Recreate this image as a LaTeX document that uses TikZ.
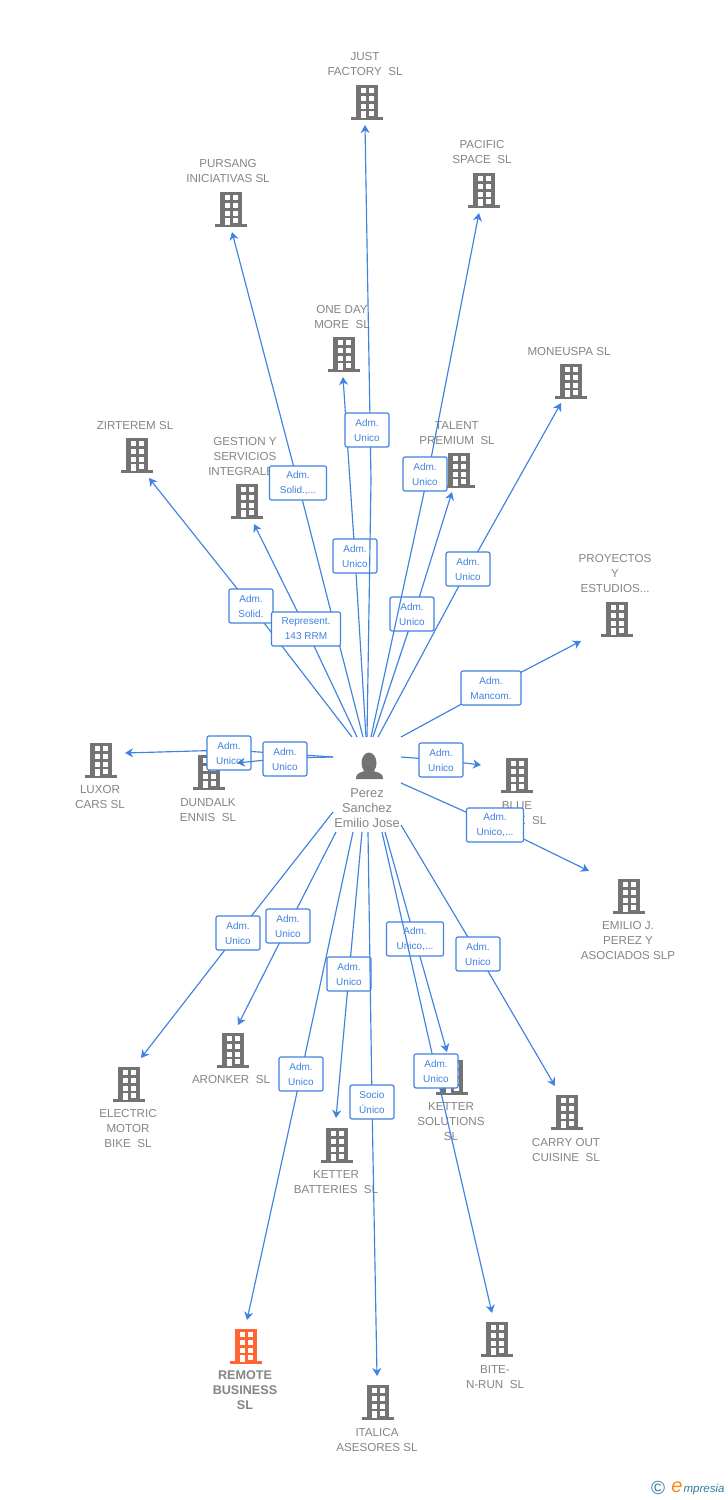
\documentclass[tikz,border=0pt]{standalone}
\usepackage{fontspec}
\setmainfont{Liberation Sans}
\usetikzlibrary{arrows.meta}
\definecolor{edgeblue}{HTML}{3F82E0}
\definecolor{iconGrey}{HTML}{737373}
\definecolor{txtGrey}{HTML}{858585}
\definecolor{hot}{HTML}{FF6633}
\definecolor{logoteal}{HTML}{2F7F9A}
\definecolor{logoorange}{HTML}{F58A1F}
\tikzset{
  x=1pt,y=-1pt,
  conn/.style={draw=edgeblue,line width=1.15pt,-{Stealth[length=8pt,width=9pt,inset=2.5pt]}},
  rel/.style={draw=edgeblue,line width=1.15pt,rounded corners=2pt,fill=white,inner sep=0pt,
    minimum height=34pt,align=center,text=edgeblue,font=\fontsize{10}{15}\selectfont},
  nm/.style={text=txtGrey,align=center,inner sep=0pt,yshift=-0.7pt,font=\fontsize{11.6}{15}\selectfont},
  nmb/.style={text=txtGrey,align=center,inner sep=0pt,yshift=-0.3pt,font=\bfseries\fontsize{12.6}{15}\selectfont},
  hubbox/.style={inner sep=0pt,minimum width=68pt,minimum height=95pt},
}
% building icon centred at #1, colour #2
\newcommand{\bld}[2]{%
  \begin{scope}[shift={#1}]
    \fill[#2] (-11,-17) rectangle (11,16);
    \fill[#2] (-16,15) rectangle (16,17.5);
    \foreach \r in {-14,-6,2}{
      \fill[white] (-6.5,\r) rectangle (-1.5,\r+5);
      \fill[white] (1.5,\r) rectangle (6.5,\r+5);}
    \fill[white] (-6.5,9) rectangle (-1.5,16);
    \fill[white] (1.5,9) rectangle (6.5,14);
  \end{scope}}
\begin{document}
\begin{tikzpicture}
\useasboundingbox (0,0) rectangle (728,1500);
\fill[white] (0,0) rectangle (728,1500);
% buildings
\bld{(367,102)}{iconGrey}
\bld{(484,190)}{iconGrey}
\bld{(231,209)}{iconGrey}
\bld{(344,354)}{iconGrey}
\bld{(571,381)}{iconGrey}
\bld{(459,470)}{iconGrey}
\bld{(137,455)}{iconGrey}
\bld{(247,501)}{iconGrey}
\bld{(617,619)}{iconGrey}
\bld{(101,760)}{iconGrey}
\bld{(209,772)}{iconGrey}
\bld{(517,775)}{iconGrey}
\bld{(629,896)}{iconGrey}
\bld{(129,1084)}{iconGrey}
\bld{(233,1050)}{iconGrey}
\bld{(452,1077)}{iconGrey}
\bld{(567,1112)}{iconGrey}
\bld{(337,1145)}{iconGrey}
\bld{(497,1339)}{iconGrey}
\bld{(246,1346)}{hot}
\bld{(378,1402)}{iconGrey}
% names
\node[nm] (nJust) at (365,63.5) {JUST\\FACTORY\ \ SL};
\node[nm] (nPacific) at (482,151.5) {PACIFIC\\SPACE\ \ SL};
\node[nm] (nPursang) at (228,170.5) {PURSANG\\INICIATIVAS SL};
\node[nm] (nOne) at (342,316.5) {ONE DAY\\MORE\ \ SL};
\node[nm] (nMoneuspa) at (569,350.5) {MONEUSPA SL};
\node[nm] (nTalent) at (457,432.5) {TALENT\\PREMIUM\ \ SL};
\node[nm] (nZirterem) at (135,424.5) {ZIRTEREM SL};
\node[nm] (nGestion) at (245,456) {GESTION Y\\SERVICIOS\\INTEGRALES};
\node[nm] (nProyectos) at (615,573) {PROYECTOS\\Y\\ESTUDIOS...};
\node[nm] (nLuxor) at (100,796) {LUXOR\\CARS SL};
\node[nm] (nDundalk) at (208,809.5) {DUNDALK\\ENNIS\ \ SL};
\node[nm] (nBlue) at (517,812) {BLUE\\BLACK\ \ SL};
\node[nm] (nEmilio) at (628,940) {EMILIO J.\\PEREZ Y\\ASOCIADOS SLP};
\node[nm] (nElectric) at (128,1128) {ELECTRIC\\MOTOR\\BIKE\ \ SL};
\node[nm] (nAronker) at (231,1079) {ARONKER\ \ SL};
\node[nm] (nKetterS) at (451,1121) {KETTER\\SOLUTIONS\\SL};
\node[nm] (nCarry) at (566,1149) {CARRY OUT\\CUISINE\ \ SL};
\node[nm] (nKetterB) at (336,1181) {KETTER\\BATTERIES\ \ SL};
\node[nm] (nBite) at (495,1376) {BITE-\\N-RUN\ \ SL};
\node[nmb] (nRemote) at (245,1390) {REMOTE\\BUSINESS\\SL};
\node[nm] (nItalica) at (377,1439) {ITALICA\\ASESORES SL};
% hub
\node[hubbox] (hub) at (367,784.5) {};
\fill[iconGrey] (369,763) ellipse[x radius=7.5,y radius=10.5];
\fill[iconGrey] (356,779) .. controls (356,771) and (363,773) .. (366,770) -- (372,770)
  .. controls (375,773) and (383,771) .. (383,779) -- cycle;
\node[nm,font=\fontsize{12.8}{15}\selectfont] (nHub) at (367,807.5) {Perez\\Sanchez\\Emilio Jose};
% connectors: hub point, target point, bend point, label centre, label width, text
\foreach \id/\sx/\sy/\ex/\ey/\vx/\vy/\lx/\ly/\w/\txt in {
  Luxor/333/757/125/753/229/750/229/753/44/{Adm.\\Unico},
  Dundalk/333/757/237/763/285/758/285/759/44/{Adm.\\Unico},
  Zirterem/352/737/149/478/251/606/251/606/44/{Adm.\\Solid.},
  Pursang/363/737/232/232/298/483/298/483/57/{Adm.\\Solid.,...},
  Gestion/357/737/254/524/306/629/306/629/69/{Represent.\\143 RRM},
  One/366/737/343/377/355/556/355/556/44/{Adm.\\Unico},
  Just/367/737/365/125/371/480/367/430/44/{Adm.\\Unico},
  Talent/373/737/452/492/414/614/412/614/44/{Adm.\\Unico},
  Pacific/371/737/479/213/428/474/425/474/44/{Adm.\\Unico},
  Moneuspa/378/737/561/403/468/569/468/569/44/{Adm.\\Unico},
  Proyectos/401/737/581/641/491/688/491/688/60/{Adm.\\Mancom.},
  Blue/401/757/481/765/441/760/441/760/44/{Adm.\\Unico},
  Emilio/401/783/589/871/495/825/495/825/57/{Adm.\\Unico,...},
  Electric/333/812/141/1058/238/933/238/933/44/{Adm.\\Unico},
  Aronker/336/832/238/1025/288/926/288/926/44/{Adm.\\Unico},
  Remote/353/832/247/1320/301/1074/301/1074/44/{Adm.\\Unico},
  Batteries/362/832/336/1118/349/974/349/974/44/{Adm.\\Unico},
  Italica/368/832/377/1376/372/1102/372/1102/44/{Socio\\Único},
  KetterS/385/832/447/1052/415/939/415/939/57/{Adm.\\Unico,...},
  Carry/401/825/555/1086/478/954/478/954/44/{Adm.\\Unico},
  Bite/382/832/492/1313/436/1071/436/1071/44/{Adm.\\Unico}%
}{
  \coordinate (s\id) at (\sx,\sy);
  \coordinate (e\id) at (\ex,\ey);
  \coordinate (v\id) at (\vx,\vy);
  \draw[conn] (s\id) -- (v\id) -- (e\id);
  \node[rel,minimum width=\w pt] (l\id) at (\lx,\ly) {\txt};
}
% logo
\node[text=logoteal,inner sep=0pt,font=\fontsize{19}{19}\selectfont] (cr) at (658,1488) {©};
\node[text=logoorange,inner sep=0pt,font=\itshape\fontsize{20}{20}\selectfont] (le) at (677,1487) {e};
\node[text=logoteal,inner sep=0pt,font=\itshape\fontsize{11.5}{12}\selectfont] (lt) at (704,1490) {mpresia};
\end{tikzpicture}
\end{document}
